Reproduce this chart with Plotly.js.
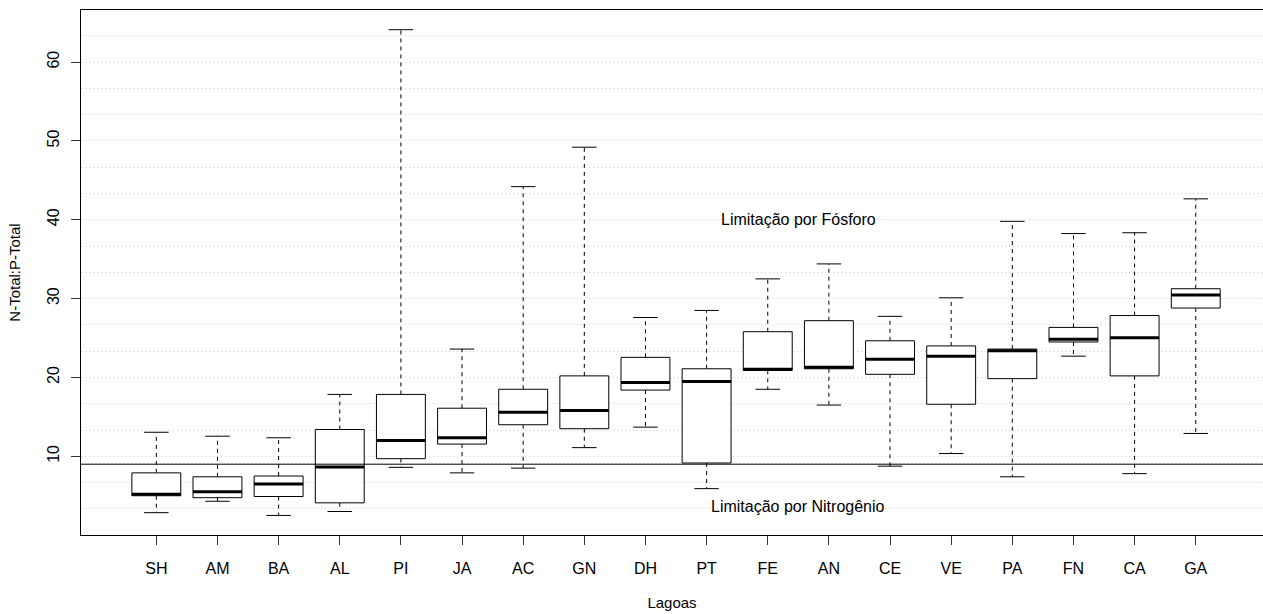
<!DOCTYPE html>
<html>
<head>
<meta charset="utf-8">
<script src="https://cdn.plot.ly/plotly-3.0.1.min.js"></script>
<style>
  html, body { margin: 0; padding: 0; background: #ffffff; }
  #chart { width: 1263px; height: 614px; }
</style>
</head>
<body>
<div id="chart"></div>
<script>
// N-Total:P-Total ratio per lagoon (box-and-whisker summaries)
const lagoas = ["SH","AM","BA","AL","PI","JA","AC","GN","DH","PT","FE","AN","CE","VE","PA","FN","CA","GA"];
const whiskerLow = [2.85, 4.3, 2.5, 3.0, 8.6, 7.9, 8.5, 11.1, 13.7, 5.9, 18.5, 16.5, 8.75, 10.35, 7.4, 22.7, 7.8, 12.9];
const quartil1   = [5.0, 4.75, 4.9, 4.1, 9.7, 11.55, 14.0, 13.5, 18.4, 9.15, 20.9, 21.1, 20.4, 16.6, 19.85, 24.5, 20.2, 28.8];
const mediana    = [5.2, 5.5, 6.5, 8.65, 12.0, 12.35, 15.6, 15.8, 19.35, 19.5, 21.05, 21.3, 22.3, 22.7, 23.4, 24.85, 25.05, 30.45];
const quartil3   = [7.9, 7.4, 7.5, 13.4, 17.85, 16.1, 18.5, 20.2, 22.55, 21.1, 25.8, 27.2, 24.65, 24.0, 23.6, 26.35, 27.85, 31.25];
const whiskerHigh = [13.05, 12.55, 12.35, 17.85, 64.1, 23.6, 44.2, 49.2, 27.6, 28.5, 32.5, 34.4, 27.75, 30.1, 39.8, 38.25, 38.35, 42.65];

// N:P threshold separating the two limitation regimes
const limiteNP = 9;
const rotulos = [
  { text: "Limitação por Fósforo", x: 11.5, y: 40 },
  { text: "Limitação por Nitrogênio", x: 11.5, y: 3.6 }
];

const halfBox = 0.4;     // box width 0.8
const halfStaple = 0.2;  // staples are half the box width

const pos = lagoas.map((_, i) => i + 1);

const wx = [], wy = [], sx = [], sy = [], bx = [], by = [], mx = [], my = [];
pos.forEach((p, i) => {
  // dashed whiskers
  wx.push(p, p, null, p, p, null);
  wy.push(quartil3[i], whiskerHigh[i], null, quartil1[i], whiskerLow[i], null);
  // staples
  sx.push(p - halfStaple, p + halfStaple, null, p - halfStaple, p + halfStaple, null);
  sy.push(whiskerHigh[i], whiskerHigh[i], null, whiskerLow[i], whiskerLow[i], null);
  // box outline
  bx.push(p - halfBox, p + halfBox, p + halfBox, p - halfBox, p - halfBox, null);
  by.push(quartil1[i], quartil1[i], quartil3[i], quartil3[i], quartil1[i], null);
  // median bar
  mx.push(p - halfBox, p + halfBox, null);
  my.push(mediana[i], mediana[i], null);
});

const traces = [
  { type: "scatter", mode: "lines", x: wx, y: wy, connectgaps: false,
    line: { color: "#000000", width: 1, dash: "4px,4px" } },
  { type: "scatter", mode: "lines", x: sx, y: sy, connectgaps: false,
    line: { color: "#000000", width: 1 } },
  { type: "scatter", mode: "lines", x: bx, y: by, connectgaps: false,
    fill: "toself", fillcolor: "#ffffff",
    line: { color: "#000000", width: 1 } },
  { type: "scatter", mode: "lines", x: mx, y: my, connectgaps: false,
    line: { color: "#000000", width: 3 } }
];

const fontFam = "'Liberation Sans', Arial, Helvetica, sans-serif";

const layout = {
  width: 1263,
  height: 614,
  margin: { l: 81, r: 0, t: 10, b: 79 },
  paper_bgcolor: "#ffffff",
  plot_bgcolor: "#ffffff",
  showlegend: false,
  hovermode: false,
  font: { family: fontFam, size: 16, color: "#000000" },
  xaxis: {
    range: [-0.232, 19.10],
    tickmode: "array",
    tickvals: pos,
    ticktext: lagoas,
    ticks: "outside",
    ticklen: 9,
    tickwidth: 1,
    tickcolor: "#333333",
    ticklabelstandoff: 10,
    tickfont: { family: fontFam, size: 16, color: "#000000" },
    showline: true,
    linecolor: "#000000",
    linewidth: 1,
    mirror: true,
    showgrid: false,
    zeroline: false,
    title: { text: "Lagoas", font: { family: fontFam, size: 15, color: "#000000" }, standoff: 21 }
  },
  yaxis: {
    range: [0.02, 66.6],
    tickmode: "array",
    tickvals: [10, 20, 30, 40, 50, 60],
    ticks: "outside",
    ticklen: 9,
    tickwidth: 1,
    tickcolor: "#333333",
    tickangle: -90,
    ticklabelstandoff: 6,
    tickfont: { family: fontFam, size: 16, color: "#000000" },
    showline: true,
    linecolor: "#000000",
    linewidth: 1,
    mirror: false,
    zeroline: false,
    showgrid: true,
    gridcolor: "#cfcfcf",
    griddash: "1px,3px",
    gridwidth: 1,
    minor: {
      tickmode: "linear",
      tick0: 0,
      dtick: 10 / 3,
      ticks: "",
      showgrid: true,
      gridcolor: "#cfcfcf",
      griddash: "1px,3px",
      gridwidth: 1
    },
    title: { text: "N-Total:P-Total", font: { family: fontFam, size: 15, color: "#000000" }, standoff: 20 }
  },
  shapes: [
    { type: "line", xref: "paper", x0: 0, x1: 1, yref: "y", y0: limiteNP, y1: limiteNP,
      line: { color: "#000000", width: 1 }, layer: "above" }
  ],
  annotations: rotulos.map(r => ({
    text: r.text, x: r.x, y: r.y, xref: "x", yref: "y",
    showarrow: false, xanchor: "center", yanchor: "middle",
    font: { family: fontFam, size: 16, color: "#000000" }
  }))
};

Plotly.newPlot("chart", traces, layout, { staticPlot: true, displayModeBar: false });
</script>
</body>
</html>
